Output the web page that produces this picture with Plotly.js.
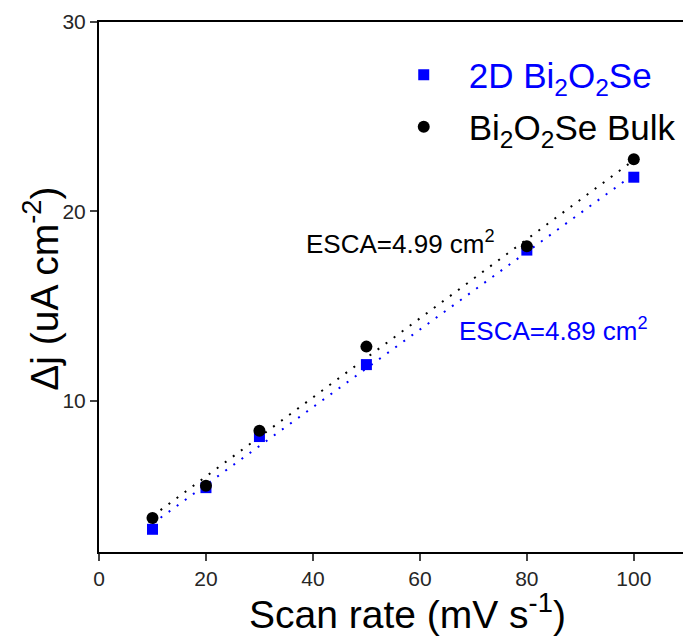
<!DOCTYPE html>
<html>
<head>
<meta charset="utf-8">
<script src="https://cdn.plot.ly/plotly-3.0.1.min.js"></script>
<style>html,body{margin:0;padding:0;background:#fff}#chart{width:683px;height:637px}</style>
</head>
<body>
<div id="chart"></div>
<script>
// Data
var scanRate = [10, 20, 30, 50, 80, 100];
var j2D = [3.2, 5.4, 8.1, 11.9, 17.95, 21.8];
var jBulk = [3.8, 5.5, 8.4, 12.85, 18.15, 22.75];
var fitX = [10, 100];
var fit2D = [3.5, 21.95];
var fitBulk = [3.9, 22.7];
var name2D = '2D Bi<sub>2</sub>O<sub>2</sub>Se';
var nameBulk = 'Bi<sub>2</sub>O<sub>2</sub>Se Bulk';
var label2D = 'ESCA=4.89 cm<sup>2</sup>';
var labelBulk = 'ESCA=4.99 cm<sup>2</sup>';
var xTitle = 'Scan rate (mV s<sup>-1</sup>)';
var yTitle = '\u0394j (uA cm<sup>-2</sup>)';
var xTicks = [0, 20, 40, 60, 80, 100];
var yTicks = [10, 20, 30];

var BLUE = '#0000ff';
var FONT = 'Liberation Sans, Arial, sans-serif';

var traces = [
  {x: fitX, y: fit2D, mode: 'lines', line: {color: BLUE, width: 2, dash: '2px,8px'}, showlegend: false, hoverinfo: 'skip'},
  {x: fitX, y: fitBulk, mode: 'lines', line: {color: '#000', width: 2, dash: '2px,8px'}, showlegend: false, hoverinfo: 'skip'},
  {x: scanRate, y: j2D, mode: 'markers', name: name2D, marker: {symbol: 'square', size: 11, color: BLUE}, legend: 'legend'},
  {x: scanRate, y: jBulk, mode: 'markers', name: nameBulk, marker: {symbol: 'circle', size: 12, color: '#000'}, legend: 'legend2'}
];

var layout = {
  width: 683, height: 637,
  margin: {l: 99, r: 0, t: 22, b: 85},
  paper_bgcolor: '#fff', plot_bgcolor: '#fff',
  font: {family: FONT, color: '#000'},
  xaxis: {
    range: [0, 109.2], tickvals: xTicks, ticks: 'outside', ticklen: 7, tickwidth: 2,
    showline: true, linewidth: 2, linecolor: '#000', mirror: true, showgrid: false, zeroline: false,
    tickfont: {size: 21, color: '#262626', family: FONT}
  },
  yaxis: {
    range: [2, 30], tickvals: yTicks, ticks: 'outside', ticklen: 7, tickwidth: 2,
    showline: true, linewidth: 2, linecolor: '#000', mirror: false, showgrid: false, zeroline: false,
    tickfont: {size: 21, color: '#262626', family: FONT}
  },
  legend: {x: 0.479, y: 0.9, xanchor: 'left', yanchor: 'middle', bgcolor: 'rgba(0,0,0,0)', itemwidth: 80,
    font: {size: 35, color: BLUE, family: FONT}},
  legend2: {x: 0.479, y: 0.802, xanchor: 'left', yanchor: 'middle', bgcolor: 'rgba(0,0,0,0)', itemwidth: 80,
    font: {size: 35, color: '#000', family: FONT}},
  annotations: [
    {x: 56.3, y: 18.33, xref: 'x', yref: 'y', text: labelBulk, showarrow: false, font: {size: 26, color: '#000', family: FONT}},
    {x: 84.9, y: 13.73, xref: 'x', yref: 'y', text: label2D, showarrow: false, font: {size: 26, color: BLUE, family: FONT}},
    {x: 0.529, y: -0.113, xref: 'paper', yref: 'paper', xanchor: 'center', yanchor: 'middle', text: xTitle, showarrow: false, font: {size: 39, color: '#000', family: FONT}},
    {x: -0.100, y: 0.496, xref: 'paper', yref: 'paper', xanchor: 'center', yanchor: 'middle', textangle: -90, text: yTitle, showarrow: false, font: {size: 39, color: '#000', family: FONT}}
  ]
};

Plotly.newPlot('chart', traces, layout, {displayModeBar: false, staticPlot: true});
</script>
</body>
</html>
